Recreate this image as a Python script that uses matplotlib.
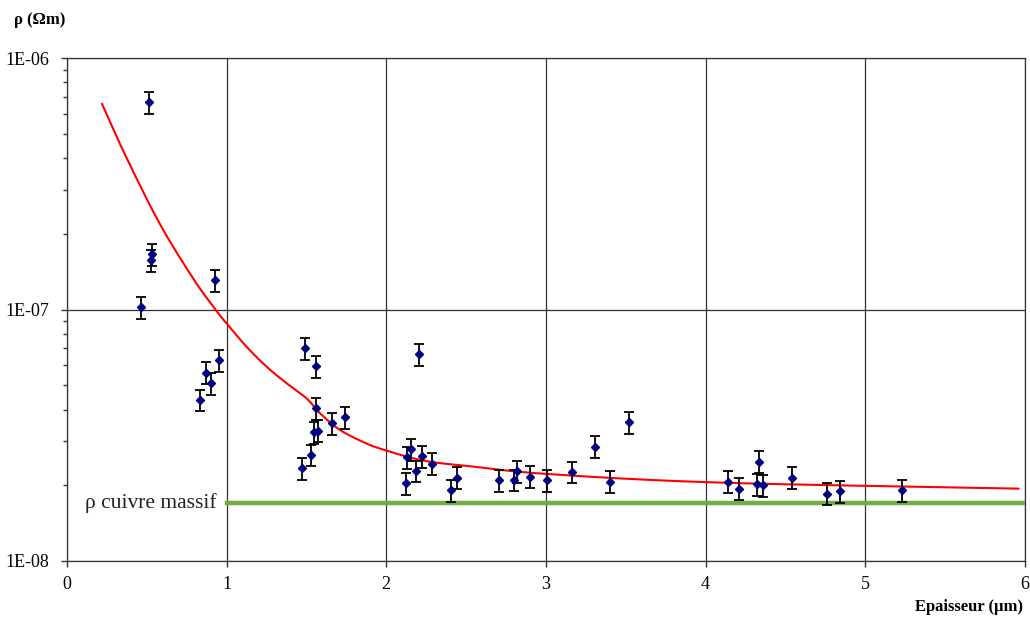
import numpy as np
import matplotlib
matplotlib.use('Agg')
import matplotlib.pyplot as plt
from matplotlib.ticker import LogLocator, NullFormatter, FixedLocator

plt.rcParams['font.family'] = ['Liberation Serif', 'DejaVu Serif']

# measured points: thickness (um), resistivity (Ohm m)
epaisseur = [0.515, 0.535, 0.524, 0.927, 0.466, 0.833, 0.869, 0.900, 0.954,
             1.490, 1.560, 1.557, 1.658, 1.743, 1.549, 1.570, 1.526, 1.474,
             2.207, 2.123, 2.131, 2.152, 2.188, 2.223, 2.288, 2.405, 2.443,
             2.708, 2.802, 2.816, 2.900, 3.004, 3.165, 3.307, 3.401, 3.522,
             4.142, 4.210, 4.336, 4.323, 4.361, 4.543, 4.760, 4.843, 5.231]
rho = [6.67e-7, 1.66e-7, 1.57e-7, 1.31e-7, 1.02e-7, 4.37e-8, 5.61e-8, 5.09e-8, 6.29e-8,
       7.01e-8, 5.96e-8, 4.04e-8, 3.53e-8, 3.73e-8, 3.25e-8, 3.30e-8, 2.64e-8, 2.34e-8,
       6.65e-8, 2.04e-8, 2.58e-8, 2.78e-8, 2.28e-8, 2.61e-8, 2.44e-8, 1.91e-8, 2.14e-8,
       2.09e-8, 2.10e-8, 2.27e-8, 2.16e-8, 2.09e-8, 2.26e-8, 2.85e-8, 2.07e-8, 3.57e-8,
       2.07e-8, 1.94e-8, 2.48e-8, 2.02e-8, 2.00e-8, 2.14e-8, 1.85e-8, 1.89e-8, 1.91e-8]

# fitted curve
fit_x = [0.22, 0.37, 0.58, 0.79, 0.93, 1.00, 1.125, 1.25, 1.376, 1.50, 1.585,
         1.71, 1.877, 2.00, 2.169, 2.315, 2.48, 3.00, 4.09, 5.96]
fit_rho = [6.56e-7, 4.05e-7, 2.20e-7, 1.33e-7, 1.00e-7, 8.80e-8, 7.11e-8, 5.93e-8,
           5.09e-8, 4.44e-8, 3.87e-8, 3.32e-8, 2.93e-8, 2.75e-8, 2.56e-8, 2.46e-8,
           2.40e-8, 2.22e-8, 2.05e-8, 1.94e-8]

rho_massif = 1.70e-8
massif_x = [1.0, 6.0]

x_ticks = [0, 1, 2, 3, 4, 5, 6]
y_ticks = [1e-8, 1e-7, 1e-6]
y_labels = ['1E-08', '1E-07', '1E-06']


def catmull_rom(px, py, n=40):
    # simple catmull-rom through the read points
    px = np.asarray(px, float)
    py = np.asarray(py, float)
    P = np.column_stack([px, py])
    P = np.vstack([2 * P[0] - P[1], P, 2 * P[-1] - P[-2]])
    out = []
    t = np.linspace(0, 1, n, endpoint=False)[:, None]
    for i in range(1, len(P) - 2):
        p0, p1, p2, p3 = P[i - 1], P[i], P[i + 1], P[i + 2]
        seg = 0.5 * ((2 * p1) + (-p0 + p2) * t + (2 * p0 - 5 * p1 + 4 * p2 - p3) * t ** 2
                     + (-p0 + 3 * p1 - 3 * p2 + p3) * t ** 3)
        out.append(seg)
    out.append(P[-2][None, :])
    out = np.vstack(out)
    return out[:, 0], out[:, 1]


def main():
    fig = plt.figure(figsize=(10.30, 6.19), dpi=100)
    ax = fig.add_axes([0.065, 0.0937, 0.930, 0.8126])

    ax.set_yscale('log')
    ax.set_xlim(0, 6)
    ax.set_ylim(1e-8, 1e-6)

    # smooth curve in log space
    xs, ly = catmull_rom(fit_x, np.log10(fit_rho))
    ax.plot(xs, 10 ** ly, color='#ff0000', lw=1.5, zorder=3)

    ax.plot(massif_x, [rho_massif, rho_massif], color='#70ad47', lw=3.2, zorder=3)
    ax.text(0.94, rho_massif, 'ρ cuivre massif', ha='right', va='center',
            fontsize=15.5, color='#222222')

    r = np.array(rho)
    ax.errorbar(epaisseur, r, yerr=0.1 * r, fmt='D', color='#000080',
                markersize=4.5, ecolor='black', elinewidth=1.3, capsize=3.5,
                capthick=1.3, zorder=4)

    ax.xaxis.set_major_locator(FixedLocator(x_ticks))
    ax.set_xticklabels([str(t) for t in x_ticks], fontsize=13)
    ax.yaxis.set_major_locator(FixedLocator(y_ticks))
    ax.set_yticklabels(y_labels, fontsize=13)
    ax.yaxis.set_minor_locator(LogLocator(base=10, subs=np.arange(2, 10)))
    ax.yaxis.set_minor_formatter(NullFormatter())

    ax.tick_params(axis='both', which='major', direction='out', length=4,
                   width=1, color='#333333', pad=7)
    ax.tick_params(axis='y', which='major', pad=9)
    ax.tick_params(axis='y', which='minor', direction='out', length=3,
                   width=1, color='#333333')

    ax.grid(True, which='major', color='#333333', lw=0.9)
    ax.set_axisbelow(True)
    for side in ['left', 'bottom', 'top', 'right']:
        ax.spines[side].set_color('#333333')
        ax.spines[side].set_linewidth(0.9)

    fig.text(0.014, 0.968, 'ρ (Ωm)', fontsize=12, fontweight='bold', ha='left', va='center')
    fig.text(0.993, 0.019, 'Epaisseur (µm)', fontsize=12, fontweight='bold', ha='right', va='center')

    fig.savefig('out.png', dpi=100, facecolor='white')


if __name__ == '__main__':
    main()
